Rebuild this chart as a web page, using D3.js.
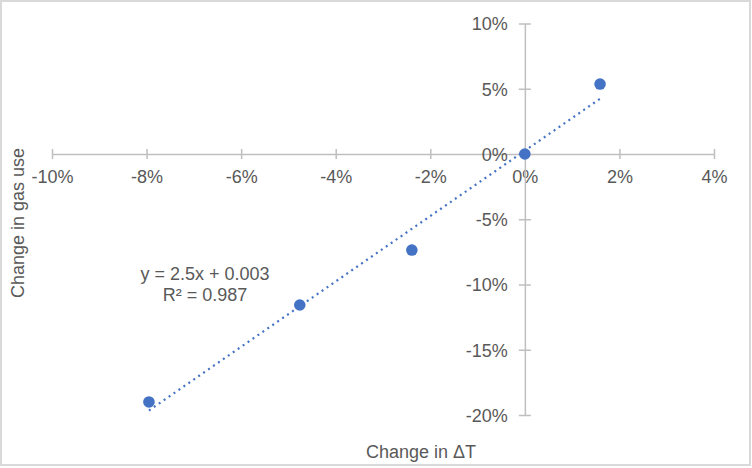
<!DOCTYPE html>
<html>
<head>
<meta charset="utf-8">
<script src="https://cdn.jsdelivr.net/npm/d3@7"></script>
<style>
  body { margin: 0; background: #fff; }
  svg text { font-family: "Liberation Sans", Arial, sans-serif; fill: #595959; }
</style>
</head>
<body>
<div id="chart"></div>
<script>
// data
var xVals = [-0.0795, -0.0476, -0.0239, 0, 0.0159];   // change in dT
var yVals = [-0.190, -0.1157, -0.0736, 0, 0.0536];   // change in gas use
var xTicks = [-0.10, -0.08, -0.06, -0.04, -0.02, 0, 0.02, 0.04];
var yTicks = [-0.20, -0.15, -0.10, -0.05, 0, 0.05, 0.10];
var eqLines = ["y = 2.5x + 0.003", "R\u00b2 = 0.987"];
var xTitle = "Change in \u0394T";
var yTitle = "Change in gas use";

var w = 752, h = 468;
var axisColor = "#BFBFBF", dotColor = "#4472C4";

var svg = d3.select("#chart").append("svg")
    .attr("width", w)
    .attr("height", h);

// chart border
svg.append("rect")
    .attr("x", 1).attr("y", 1)
    .attr("width", w - 3).attr("height", h - 4)
    .attr("fill", "#fff")
    .attr("stroke", "#D9D9D9")
    .attr("stroke-width", 2);

var x = d3.scaleLinear().domain([-0.10, 0.04]).range([52, 714]);
var y = d3.scaleLinear().domain([-0.20, 0.10]).range([415, 23.5]);
// excel style: plain hyphen for negatives
var pct = function(d) { return d3.format(".0%")(d).replace("\u2212", "-"); };

// x axis crossing at y = 0
var gx = svg.append("g")
    .attr("transform", "translate(0," + y(0) + ")")
    .call(d3.axisBottom(x).tickValues(xTicks).tickFormat(pct).tickSizeOuter(0));
gx.select(".domain").attr("stroke", axisColor).attr("stroke-width", 1.5);
gx.selectAll(".tick line").attr("y1", -5).attr("y2", 5)
    .attr("stroke", axisColor).attr("stroke-width", 1.5);
gx.selectAll(".tick text").attr("y", 29).attr("dy", 0)
    .style("font-size", "18px").attr("fill", "#595959");

// y axis crossing at x = 0
var gy = svg.append("g")
    .attr("transform", "translate(" + x(0) + ",0)")
    .call(d3.axisLeft(y).tickValues(yTicks).tickFormat(pct).tickSizeOuter(0));
gy.select(".domain").attr("stroke", axisColor).attr("stroke-width", 1.5);
gy.selectAll(".tick line").attr("x1", -6).attr("x2", 6)
    .attr("stroke", axisColor).attr("stroke-width", 1.5);
gy.selectAll(".tick text").attr("x", -17).attr("dy", "0.36em")
    .style("font-size", "18px").attr("fill", "#595959");

// linear trendline (least squares over the points)
var mx = d3.mean(xVals), my = d3.mean(yVals);
var sxy = d3.sum(xVals, function(d, i) { return (d - mx) * (yVals[i] - my); });
var sxx = d3.sum(xVals, function(d) { return (d - mx) * (d - mx); });
var slope = sxy / sxx, icpt = my - slope * mx;
var xs = d3.extent(xVals);
svg.append("line")
    .attr("x1", x(xs[0])).attr("y1", y(slope * xs[0] + icpt))
    .attr("x2", x(xs[1])).attr("y2", y(slope * xs[1] + icpt))
    .attr("stroke", dotColor)
    .attr("stroke-width", 2.2)
    .attr("stroke-dasharray", "2 4");

// points
svg.selectAll("circle.pt")
    .data(xVals)
    .enter()
    .append("circle")
    .attr("class", "pt")
    .attr("cx", function(d) { return x(d); })
    .attr("cy", function(d, i) { return y(yVals[i]); })
    .attr("r", 5.8)
    .attr("fill", dotColor);

// trendline label
svg.selectAll("text.eq")
    .data(eqLines)
    .enter()
    .append("text")
    .attr("class", "eq")
    .attr("x", 205)
    .attr("y", function(d, i) { return 280 + i * 21; })
    .attr("text-anchor", "middle")
    .style("font-size", "18px")
    .text(function(d) { return d; });

// axis titles
svg.append("text")
    .attr("x", 421).attr("y", 458)
    .attr("text-anchor", "middle")
    .style("font-size", "18px")
    .text(xTitle);

svg.append("text")
    .attr("transform", "translate(24,223) rotate(-90)")
    .attr("text-anchor", "middle")
    .style("font-size", "18px")
    .text(yTitle);
</script>
</body>
</html>
